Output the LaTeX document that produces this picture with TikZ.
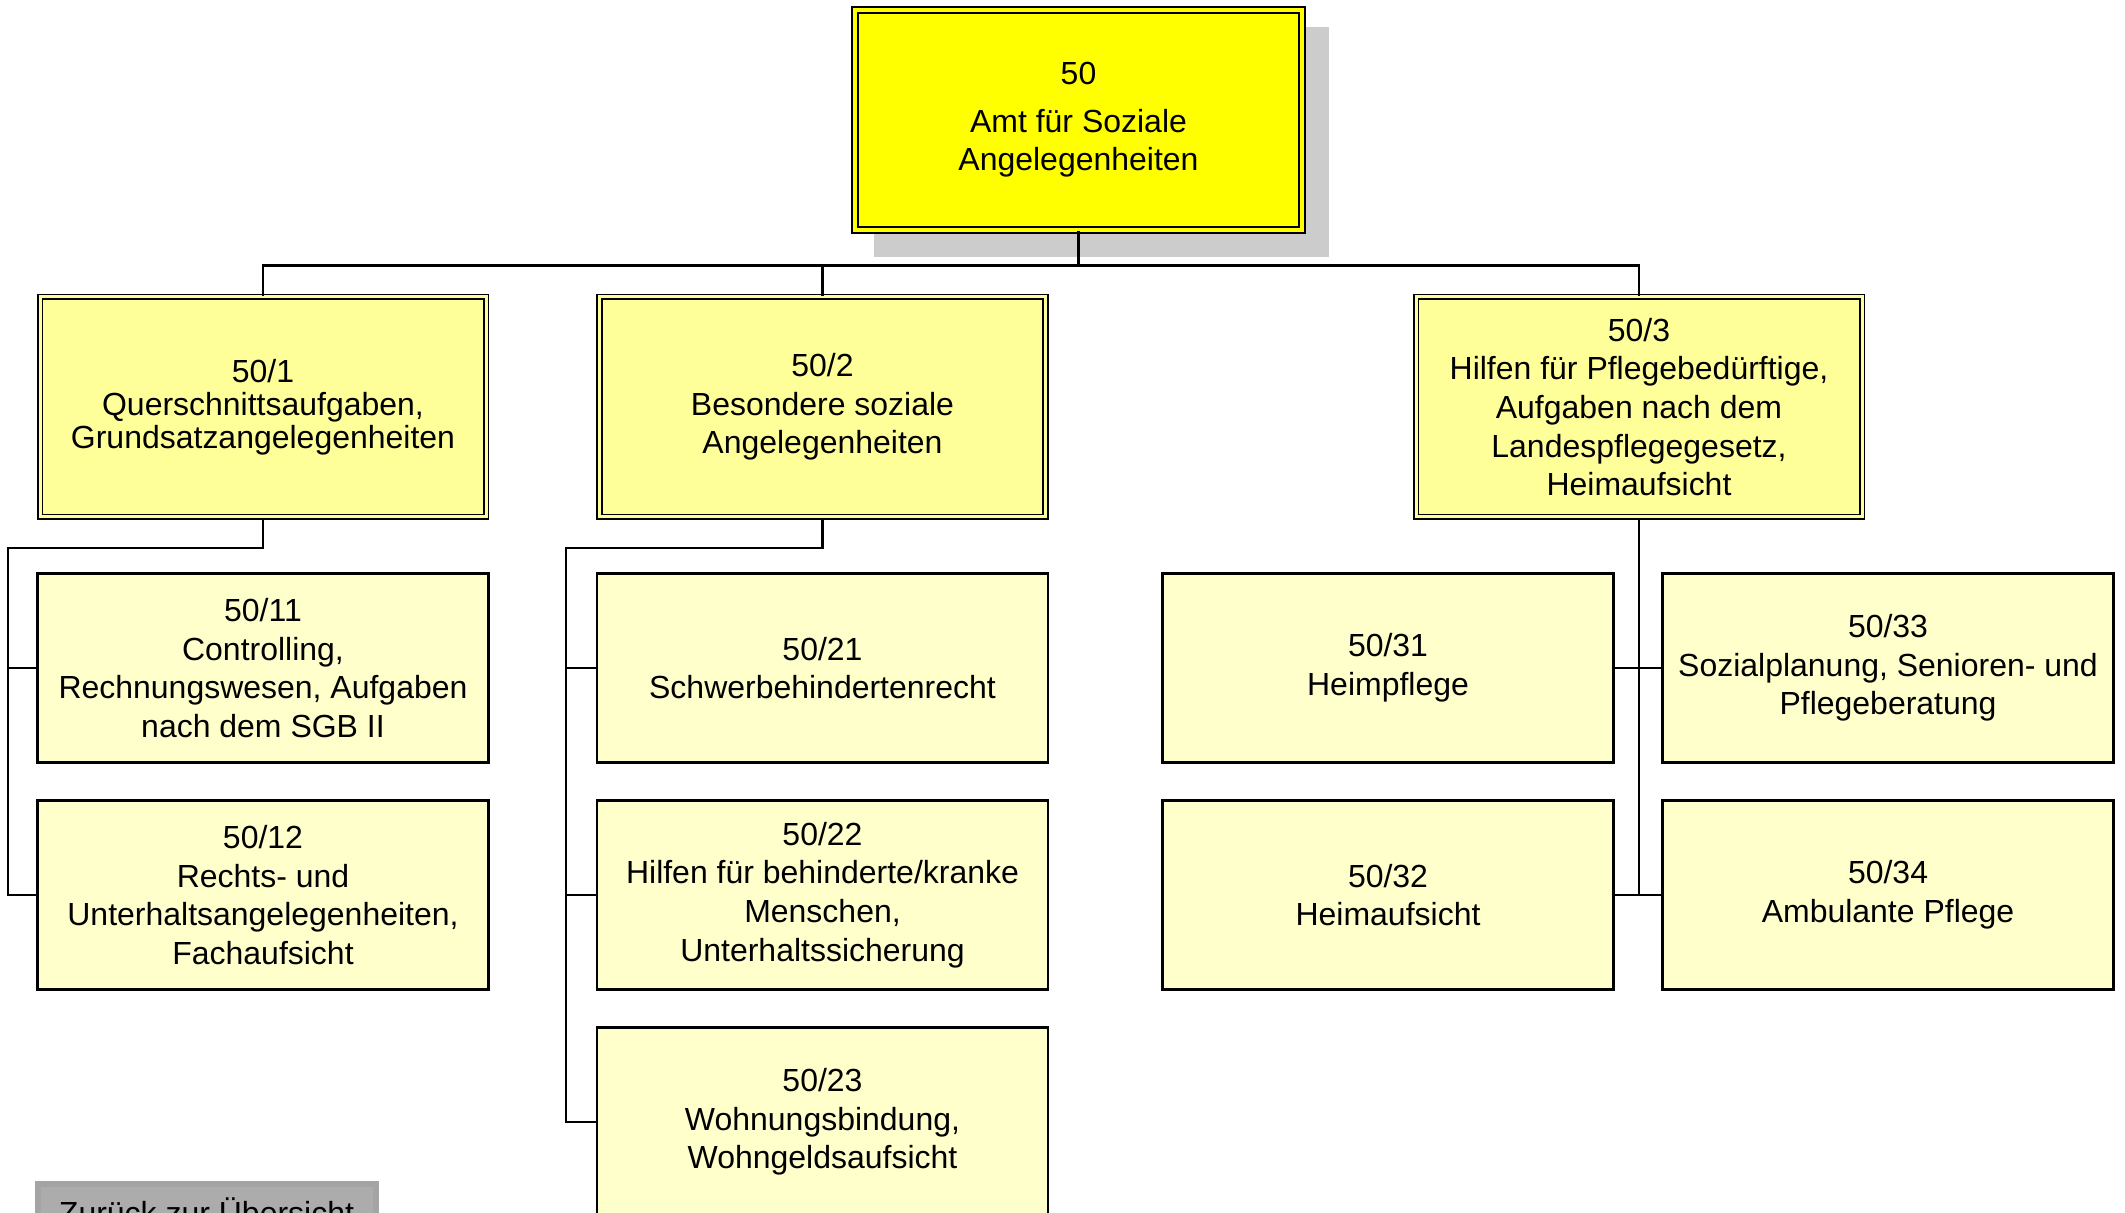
\documentclass[tikz,border=0pt]{standalone}
\usepackage{fontspec}
\setmainfont{Liberation Sans}
\definecolor{amtgelb}{HTML}{FFFF00}
\definecolor{abtgelb}{HTML}{FFFF99}
\definecolor{sggelb}{HTML}{FFFFCC}
\definecolor{schatten}{HTML}{CCCCCC}
\definecolor{knopfrand}{HTML}{A4A4A4}
\definecolor{knopfhell}{HTML}{E6E6E6}
\definecolor{knopfdunkel}{HTML}{ACACAC}
\begin{document}
\begin{tikzpicture}[
    font=\fontsize{9.1}{11}\selectfont,
    amt/.style={draw, rectangle, fill=amtgelb, double=amtgelb, double distance=0.04cm, line width=0.6pt, minimum width=4.47cm, minimum height=2.2cm, align=center, inner sep=0pt},
    abt/.style={draw, rectangle, fill=abtgelb, double=abtgelb, double distance=0.03cm, line width=0.45pt, minimum width=4.46cm, minimum height=2.2cm, align=center, inner sep=0pt},
    sg/.style={draw, rectangle, fill=sggelb, line width=0.6pt, minimum width=4.51cm, minimum height=1.89cm, align=center, inner sep=0pt},
    knopf/.style={draw=knopfrand, line width=0.06cm, left color=knopfdunkel, middle color=knopfhell, right color=knopfdunkel, minimum width=3.38cm, inner sep=0pt, text height=0.4cm, text depth=0.4cm},
    linie/.style={line width=0.65pt}
]
\useasboundingbox (0,0) rectangle (21.25,-12.13);
\fill[schatten] (8.74,-0.27) rectangle (13.29,-2.57);
\node at (10.785,-1.2) [amt] (A50) {50\\[2.4pt]Amt für Soziale\\Angelegenheiten};
\node at (2.63,-4.07) [abt] (A501) {50/1\\[-1.6pt]Querschnittsaufgaben,\\[-1.6pt]Grundsatzangelegenheiten};
\node at (8.225,-4.07) [abt] (A502) {50/2\\Besondere soziale\\Angelegenheiten};
\node at (16.39,-4.07) [abt] (A503) {50/3\\Hilfen für Pflegebedürftige,\\Aufgaben nach dem\\Landespflegegesetz,\\Heimaufsicht};
\node at (2.63,-6.68) [sg] (A5011) {50/11\\Controlling,\\Rechnungswesen, Aufgaben\\nach dem SGB II};
\node at (2.63,-8.95) [sg] (A5012) {50/12\\Rechts- und\\Unterhaltsangelegenheiten,\\Fachaufsicht};
\node at (8.225,-6.68) [sg] (A5021) {50/21\\Schwerbehindertenrecht};
\node at (8.225,-8.95) [sg] (A5022) {50/22\\Hilfen für behinderte/kranke\\Menschen,\\Unterhaltssicherung};
\node at (8.225,-11.22) [sg] (A5023) {50/23\\Wohnungsbindung,\\Wohngeldsaufsicht};
\node at (13.88,-6.68) [sg] (A5031) {50/31\\Heimpflege};
\node at (13.88,-8.95) [sg] (A5032) {50/32\\Heimaufsicht};
\node at (18.88,-6.68) [sg] (A5033) {50/33\\Sozialplanung, Senioren- und\\Pflegeberatung};
\node at (18.88,-8.95) [sg] (A5034) {50/34\\Ambulante Pflege};
\node at (2.065,-11.81) [knopf, anchor=north] (zurueck) {Zurück zur Übersicht};
\coordinate (b0) at (10.785,-2.655);
\coordinate (b1) at (0.08,-5.48);
\coordinate (b2) at (5.66,-5.48);
\draw[linie] (A50.south) -- (b0);
\draw[linie] (A501.north) |- (b0) -| (A503.north);
\draw[linie] (A502.north) -- (A502.north |- b0);
\draw[linie] (A501.south) |- (b1) |- (A5012.west);
\draw[linie] (A5011.west) -- (A5011.west -| b1);
\draw[linie] (A502.south) |- (b2) |- (A5023.west);
\draw[linie] (A5021.west) -- (A5021.west -| b2);
\draw[linie] (A5022.west) -- (A5022.west -| b2);
\draw[linie] (A503.south) -- (A503.south |- A5032.east);
\draw[linie] (A5031.east) -- (A5033.west);
\draw[linie] (A5032.east) -- (A5034.west);
\end{tikzpicture}
\end{document}
